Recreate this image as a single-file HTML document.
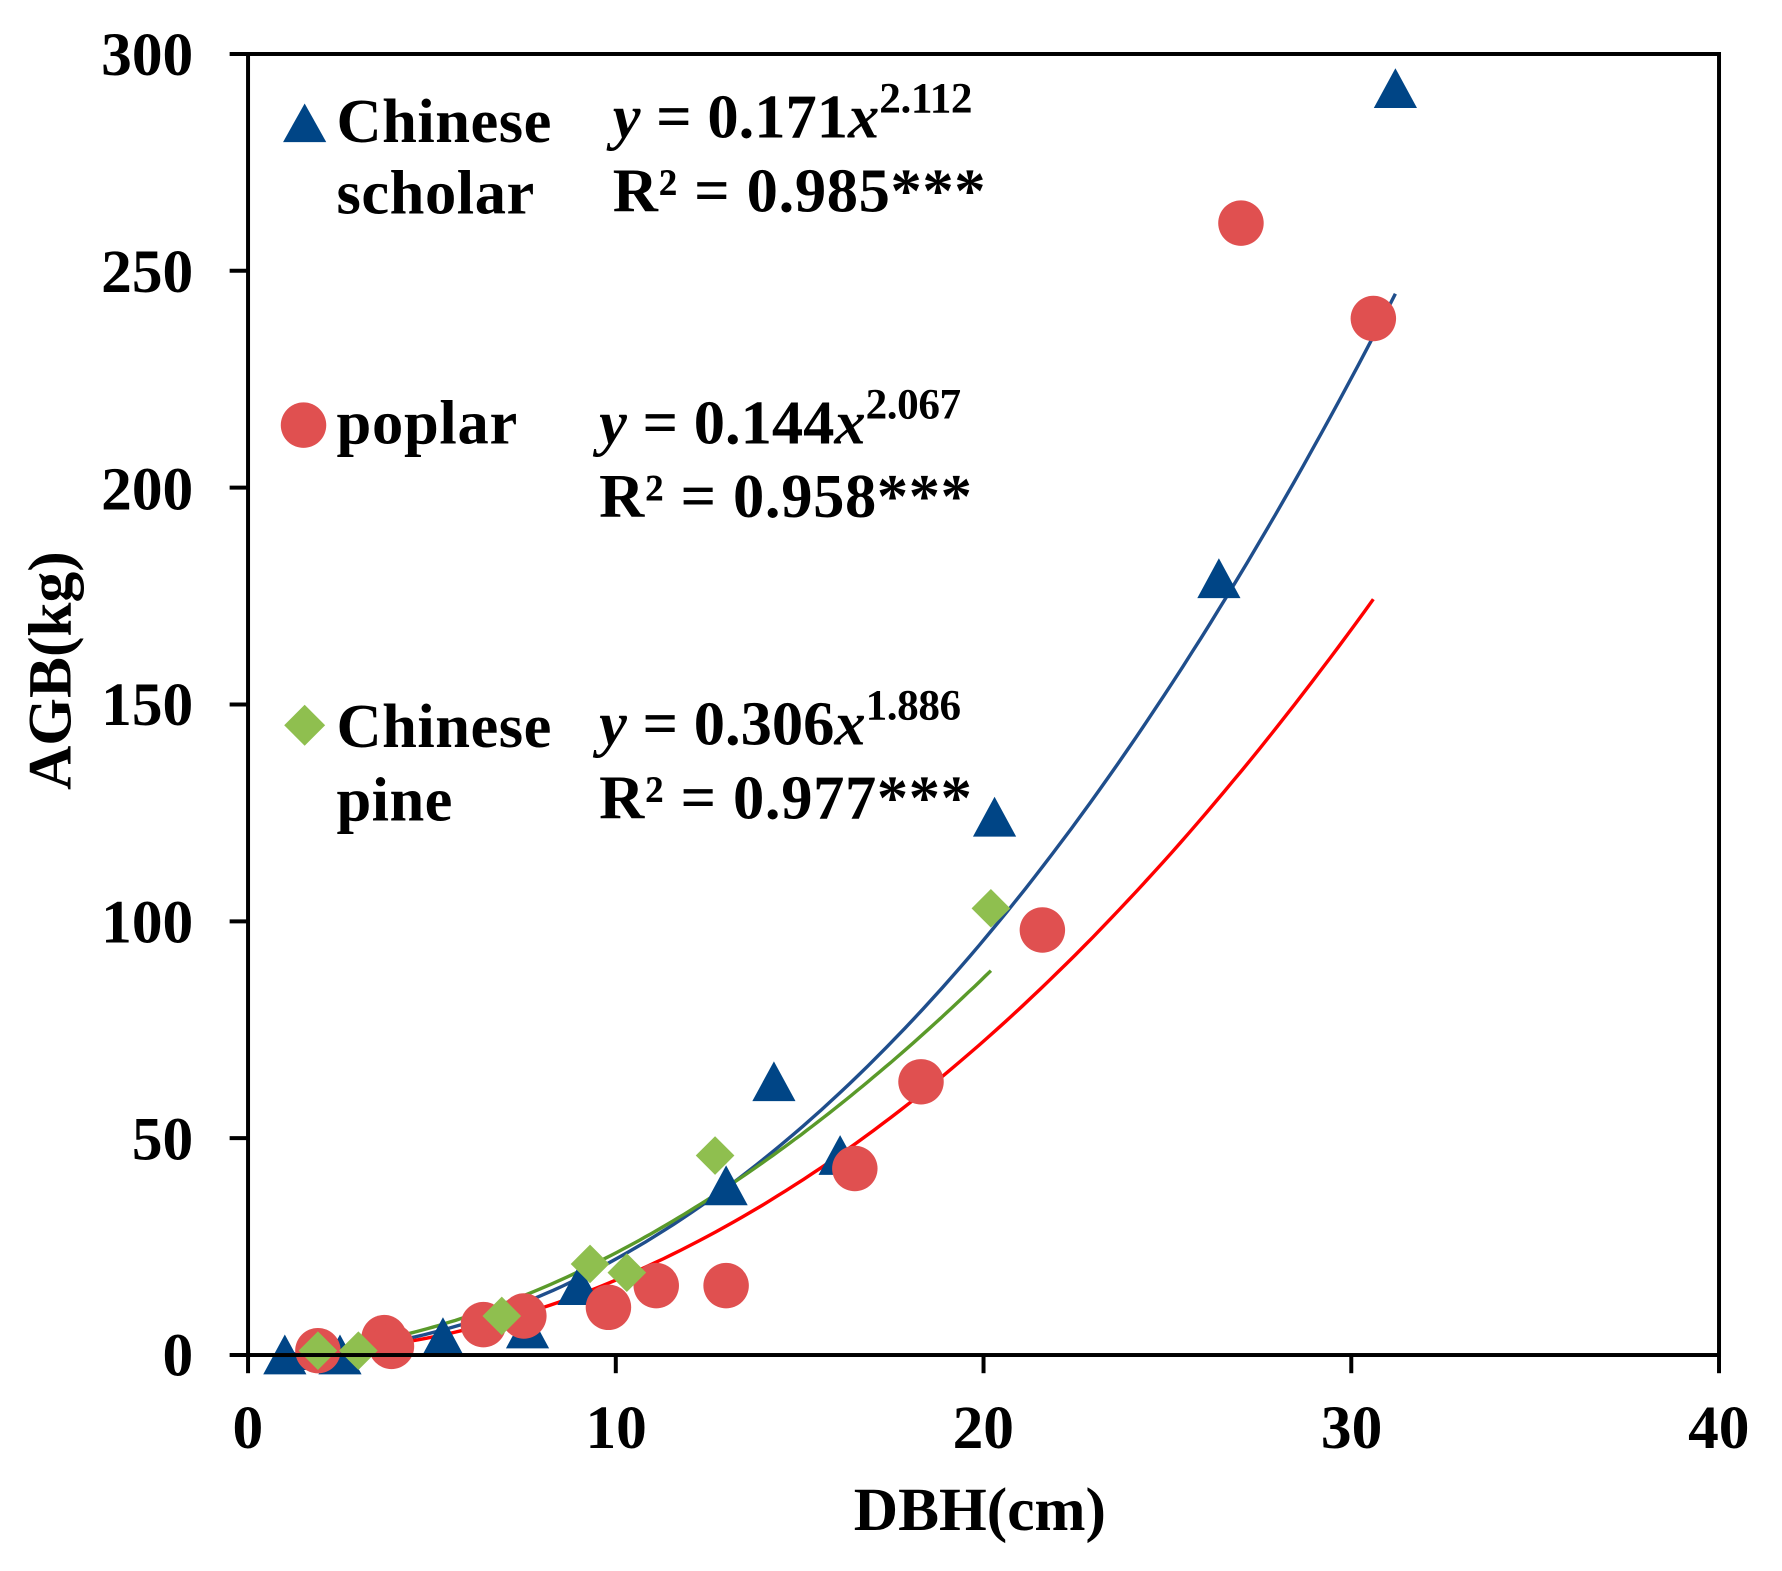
<!DOCTYPE html>
<html><head><meta charset="utf-8"><style>
html,body{margin:0;padding:0;background:#fff;}
svg{display:block;}
text{font-family:"Liberation Serif","Times New Roman",serif;font-weight:bold;fill:#000;}
</style></head><body>
<svg id="s" width="1782" height="1571" viewBox="0 0 1567.6 1382" preserveAspectRatio="none" xmlns="http://www.w3.org/2000/svg">
<rect x="0" y="0" width="1567.6" height="1382" fill="#fff"/>
<g id="curves"></g>
<g id="pts"></g>
<rect x="218.2" y="47.5" width="1294" height="1144.5" fill="none" stroke="#000" stroke-width="3.5"/>
<g stroke="#000" stroke-width="3.5">
<line x1="218.2" y1="1192" x2="218.2" y2="1208"/>
<line x1="541.7" y1="1192" x2="541.7" y2="1208"/>
<line x1="865.2" y1="1192" x2="865.2" y2="1208"/>
<line x1="1188.7" y1="1192" x2="1188.7" y2="1208"/>
<line x1="1512.2" y1="1192" x2="1512.2" y2="1208"/>
<line x1="202" y1="1192" x2="218.2" y2="1192"/>
<line x1="202" y1="1001.2" x2="218.2" y2="1001.2"/>
<line x1="202" y1="810.5" x2="218.2" y2="810.5"/>
<line x1="202" y1="619.7" x2="218.2" y2="619.7"/>
<line x1="202" y1="429" x2="218.2" y2="429"/>
<line x1="202" y1="238.2" x2="218.2" y2="238.2"/>
<line x1="202" y1="47.5" x2="218.2" y2="47.5"/>
</g>
<g font-size="54" text-anchor="end">
<text x="170" y="1210">0</text>
<text x="170" y="1020">50</text>
<text x="170" y="829">100</text>
<text x="170" y="638">150</text>
<text x="170" y="448">200</text>
<text x="170" y="257">250</text>
<text x="170" y="66">300</text>
</g>
<g font-size="54" text-anchor="middle">
<text x="218" y="1274">0</text>
<text x="542" y="1274">10</text>
<text x="865" y="1274">20</text>
<text x="1189" y="1274">30</text>
<text x="1512" y="1274">40</text>
<text x="862" y="1346">DBH(cm)</text>
<text transform="translate(62,590) rotate(-90)">AGB(kg)</text>
</g>
<polygon points="249,125 268,91 287,125" fill="#004586"/>
<circle cx="267" cy="374" r="20" fill="#e05050"/>
<polygon points="268,620 286,638 268,656 250,638" fill="#8fbf4f"/>
<g font-size="55">
<text x="296" y="125" textLength="189">Chinese</text>
<text x="296" y="188" textLength="174">scholar</text>
<text x="296" y="390" textLength="159">poplar</text>
<text x="296" y="657" textLength="189">Chinese</text>
<text x="296" y="722" textLength="102">pine</text>

<text x="539" y="121"><tspan font-style="italic">y</tspan> = 0.171<tspan font-style="italic">x</tspan><tspan font-size="38" dy="-22" textLength="82">2.112</tspan></text>
<text x="539" y="186" textLength="328">R² = 0.985***</text>
<text x="527" y="390"><tspan font-style="italic">y</tspan> = 0.144<tspan font-style="italic">x</tspan><tspan font-size="38" dy="-22" textLength="84">2.067</tspan></text>
<text x="527" y="455" textLength="328">R² = 0.958***</text>
<text x="527" y="655"><tspan font-style="italic">y</tspan> = 0.306<tspan font-style="italic">x</tspan><tspan font-size="38" dy="-22" textLength="84">1.886</tspan></text>
<text x="527" y="720" textLength="328">R² = 0.977***</text>
</g>
<script>
(function(){
var NS="http://www.w3.org/2000/svg";
function X(c){return 218.2+32.35*c;}
function Y(k){return 1192-3.815*k;}
function curve(a,b,x0,x1,col){
 var d="";for(var i=0;i<=120;i++){var x=x0+(x1-x0)*i/120;d+=(i?"L":"M")+X(x).toFixed(1)+","+Y(a*Math.pow(x,b)).toFixed(1);}
 var p=document.createElementNS(NS,"path");p.setAttribute("d",d);p.setAttribute("fill","none");p.setAttribute("stroke",col);p.setAttribute("stroke-width","3");
 document.getElementById("curves").appendChild(p);}
var g=document.getElementById("pts");
function tri(c,k){var x=X(c),y=Y(k);var p=document.createElementNS(NS,"polygon");
 p.setAttribute("points",(x-19)+","+(y+17)+" "+x+","+(y-18)+" "+(x+19)+","+(y+17));p.setAttribute("fill","#004586");g.appendChild(p);}
function cir(c,k){var p=document.createElementNS(NS,"circle");p.setAttribute("cx",X(c));p.setAttribute("cy",Y(k));p.setAttribute("r",20);p.setAttribute("fill","#e05050");g.appendChild(p);}
function dia(c,k){var x=X(c),y=Y(k);var p=document.createElementNS(NS,"polygon");
 p.setAttribute("points",x+","+(y-17)+" "+(x+17)+","+y+" "+x+","+(y+17)+" "+(x-17)+","+y);p.setAttribute("fill","#8fbf4f");g.appendChild(p);}
[[1.0,0],[2.5,0],[2.0,1],[5.3,4],[7.6,6],[9.0,16],[13.0,39],[14.3,63],[16.1,46],[20.3,124],[26.4,179],[31.2,292]].forEach(function(p){tri(p[0],p[1]);});
[[1.9,1],[3.7,4],[3.9,2],[6.4,7],[7.5,9],[9.8,11],[11.1,16],[13.0,16],[16.5,43],[18.3,63],[21.6,98],[27.0,261],[30.6,239]].forEach(function(p){cir(p[0],p[1]);});
[[1.9,1],[3.0,1],[6.9,9],[9.3,21],[10.3,19],[12.7,46],[20.2,103]].forEach(function(p){dia(p[0],p[1]);});
curve(0.171,2.112,1.0,31.2,"#1f4e8c");
curve(0.148,2.067,2.0,30.6,"#ff0000");
curve(0.306,1.886,2.0,20.2,"#5a9a2a");
})();
</script>
</svg>
</body></html>
